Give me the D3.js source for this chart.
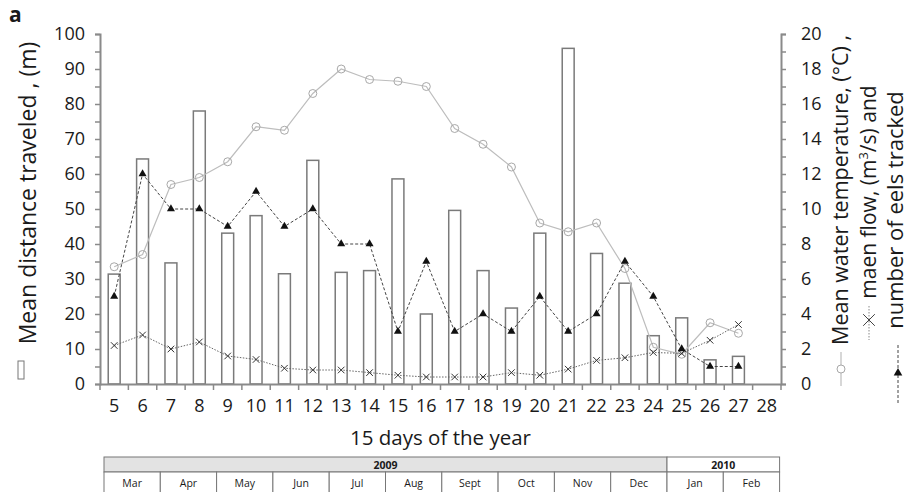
<!DOCTYPE html>
<html>
<head>
<meta charset="utf-8">
<script src="https://cdn.jsdelivr.net/npm/d3@7"></script>
<style>
  body { margin: 0; background: #fff; }
  text { font-family: "Open Sans", sans-serif; fill: #1a1a1a; }
</style>
</head>
<body>
<div id="chart"></div>
<script>
// 15-day periods of the year
const periods = [5, 6, 7, 8, 9, 10, 11, 12, 13, 14, 15, 16, 17, 18, 19, 20, 21, 22, 23, 24, 25, 26, 27, 28];
// mean distance traveled (m), left axis
const distance = [31.4, 64.3, 34.6, 78, 43.1, 48.1, 31.5, 63.9, 31.9, 32.4, 58.6, 20, 49.6, 32.4, 21.7, 43.1, 95.9, 37.3, 28.8, 13.8, 18.9, 6.9, 7.9, null];
// right axis series
const temperature = [6.7, 7.4, 11.4, 11.8, 12.7, 14.7, 14.5, 16.6, 18.0, 17.4, 17.3, 17.0, 14.6, 13.7, 12.4, 9.2, 8.7, 9.2, 6.6, 2.1, 1.7, 3.5, 2.9, null];
const flow = [2.2, 2.8, 2.0, 2.4, 1.6, 1.4, 0.9, 0.8, 0.8, 0.65, 0.5, 0.4, 0.4, 0.4, 0.65, 0.5, 0.85, 1.35, 1.5, 1.8, 1.75, 2.5, 3.4, null];
const eels = [5, 12, 10, 10, 9, 11, 9, 10, 8, 8, 3, 7, 3, 4, 3, 5, 3, 4, 7, 5, 2, 1, 1, null];
// calendar strip under the chart
const months2009 = ["Mar", "Apr", "May", "Jun", "Jul", "Aug", "Sept", "Oct", "Nov", "Dec"];
const months2010 = ["Jan", "Feb"];
const years = ["2009", "2010"];

const width = 919, height = 492;
const margin = {top: 34, bottom: 108, left: 100, right: 138};
const plotBottom = height - margin.bottom;
const plotRight = width - margin.right;

const svg = d3.select("#chart").append("svg")
  .attr("width", width)
  .attr("height", height);

const x = d3.scaleBand().domain(periods).range([margin.left, plotRight]).padding(0);
const yLeft = d3.scaleLinear().domain([0, 100]).range([plotBottom, margin.top]);
const yRight = d3.scaleLinear().domain([0, 20]).range([plotBottom, margin.top]);

const axisColor = "#8a8a8a";

// bars
const barW = x.bandwidth() * 0.42;
svg.append("g").selectAll("rect")
  .data(periods.map((p, i) => ({p: p, v: distance[i]})).filter(d => d.v != null))
  .enter()
  .append("rect")
  .attr("x", d => x(d.p) + x.bandwidth() / 2 - barW / 2)
  .attr("y", d => yLeft(d.v))
  .attr("width", barW)
  .attr("height", d => plotBottom - yLeft(d.v))
  .attr("fill", "white")
  .attr("stroke", "#7a7a7a")
  .attr("stroke-width", 1.5);

function series(values) {
  return periods.map((p, i) => ({p: p, v: values[i]})).filter(d => d.v != null);
}
const cx = d => x(d.p) + x.bandwidth() / 2;
const line = d3.line().x(cx).y(d => yRight(d.v));

// temperature
svg.append("path")
  .attr("d", line(series(temperature)))
  .attr("fill", "none")
  .attr("stroke", "#bdbdbd")
  .attr("stroke-width", 1.2);
svg.append("g").selectAll("circle")
  .data(series(temperature))
  .enter()
  .append("circle")
  .attr("cx", cx)
  .attr("cy", d => yRight(d.v))
  .attr("r", 4)
  .attr("fill", "white")
  .attr("fill-opacity", 0)
  .attr("stroke", "#a8a8a8")
  .attr("stroke-width", 1);

// flow
svg.append("path")
  .attr("d", line(series(flow)))
  .attr("fill", "none")
  .attr("stroke", "#666")
  .attr("stroke-width", 1)
  .attr("stroke-dasharray", "1.5,1.5");
svg.append("g").selectAll("path")
  .data(series(flow))
  .enter()
  .append("path")
  .attr("d", d3.symbol().type(d3.symbolTimes).size(30))
  .attr("transform", d => `translate(${cx(d)},${yRight(d.v)})`)
  .attr("fill", "none")
  .attr("stroke", "#333")
  .attr("stroke-width", 1);

// eels tracked
svg.append("path")
  .attr("d", line(series(eels)))
  .attr("fill", "none")
  .attr("stroke", "#444")
  .attr("stroke-width", 1)
  .attr("stroke-dasharray", "3,2");
svg.append("g").selectAll("path")
  .data(series(eels))
  .enter()
  .append("path")
  .attr("d", d3.symbol().type(d3.symbolTriangle).size(28))
  .attr("transform", d => `translate(${cx(d)},${yRight(d.v)})`)
  .attr("fill", "#111");

// axes
function styleAxis(g) {
  g.select(".domain").attr("stroke", axisColor).attr("stroke-width", 2);
  g.selectAll(".tick line").attr("stroke", axisColor).attr("stroke-width", 1.5);
  g.selectAll("text").attr("font-size", 18).attr("fill", "#1a1a1a")
    .attr("font-family", "Open Sans, sans-serif");
}

svg.append("g")
  .attr("transform", `translate(${margin.left},0)`)
  .call(d3.axisLeft(yLeft)
    .tickValues(d3.range(0, 101, 5))
    .tickFormat(d => d % 10 === 0 ? d : "")
    .tickSize(5).tickSizeOuter(5).tickPadding(10))
  .call(styleAxis);

svg.append("g")
  .attr("transform", `translate(${plotRight},0)`)
  .call(d3.axisRight(yRight)
    .tickValues(d3.range(0, 21, 1))
    .tickFormat(d => d % 2 === 0 ? d : "")
    .tickSize(5).tickSizeOuter(5).tickPadding(15))
  .call(styleAxis);

const xAxis = svg.append("g")
  .attr("transform", `translate(0,${plotBottom})`)
  .call(d3.axisBottom(x).tickSize(0).tickSizeOuter(0).tickPadding(15))
  .call(styleAxis);
xAxis.selectAll(".tick text").attr("dy", "0.71em");
xAxis.append("g").selectAll("line")
  .data(periods.concat([null]))
  .enter()
  .append("line")
  .attr("x1", (d, i) => margin.left + i * x.bandwidth())
  .attr("x2", (d, i) => margin.left + i * x.bandwidth())
  .attr("y1", 0)
  .attr("y2", 6)
  .attr("stroke", axisColor)
  .attr("stroke-width", 1.5);

// titles
svg.append("text")
  .attr("x", 9).attr("y", 22)
  .attr("font-size", 21).attr("font-weight", "bold")
  .text("a");

svg.append("text")
  .attr("transform", "translate(36,193) rotate(-90)")
  .attr("text-anchor", "middle")
  .attr("font-size", 23)
  .text("Mean distance traveled , (m)");
svg.append("rect")
  .attr("x", 18).attr("y", 361).attr("width", 6).attr("height", 18)
  .attr("fill", "white").attr("stroke", "#777").attr("stroke-width", 1);

svg.append("text")
  .attr("x", (margin.left + plotRight) / 2).attr("y", 445)
  .attr("text-anchor", "middle")
  .attr("font-size", 20.5)
  .text("15 days of the year");

// right-side titles with their legend marks
const rightTitles = [
  {x: 848, y: 190, text: "Mean water temperature, (°C) ,"},
  {x: 876, y: 192, text: null},
  {x: 903, y: 210, text: "number of eels tracked"}
];
svg.append("text")
  .attr("transform", `translate(${rightTitles[0].x},${rightTitles[0].y}) rotate(-90)`)
  .attr("text-anchor", "middle").attr("font-size", 21.5)
  .text(rightTitles[0].text);
const flowTitle = svg.append("text")
  .attr("transform", `translate(${rightTitles[1].x},${rightTitles[1].y}) rotate(-90)`)
  .attr("text-anchor", "middle").attr("font-size", 21);
flowTitle.append("tspan").text("maen flow, (m");
flowTitle.append("tspan").attr("font-size", 13).attr("dy", -8).text("3");
flowTitle.append("tspan").attr("dy", 8).text("/s) and");
svg.append("text")
  .attr("transform", `translate(${rightTitles[2].x},${rightTitles[2].y}) rotate(-90)`)
  .attr("text-anchor", "middle").attr("font-size", 22)
  .text(rightTitles[2].text);

// legend marks
svg.append("line").attr("x1", 841).attr("x2", 841).attr("y1", 352).attr("y2", 386)
  .attr("stroke", "#bdbdbd").attr("stroke-width", 1.2);
svg.append("circle").attr("cx", 841).attr("cy", 369).attr("r", 4)
  .attr("fill", "white").attr("stroke", "#a8a8a8");
svg.append("line").attr("x1", 869).attr("x2", 869).attr("y1", 306).attr("y2", 340)
  .attr("stroke", "#888").attr("stroke-dasharray", "1.5,1.5");
svg.append("path").attr("d", d3.symbol().type(d3.symbolTimes).size(90))
  .attr("transform", "translate(869,320)")
  .attr("fill", "none").attr("stroke", "#444").attr("stroke-width", 1);
svg.append("line").attr("x1", 898).attr("x2", 898).attr("y1", 345).attr("y2", 405)
  .attr("stroke", "#444").attr("stroke-dasharray", "3,2");
svg.append("path").attr("d", d3.symbol().type(d3.symbolTriangle).size(32))
  .attr("transform", "translate(898,373)")
  .attr("fill", "#111");

// calendar strip
const tbl = {left: 104, top: 457, mid: 472, bottom: 496, monthW: 56.3};
const allMonths = months2009.concat(months2010);
const mx = d3.scaleBand().domain(allMonths.map((m, i) => i))
  .range([tbl.left, tbl.left + tbl.monthW * allMonths.length]);
const strip = svg.append("g");
strip.append("rect")
  .attr("x", mx(0)).attr("y", tbl.top)
  .attr("width", mx.bandwidth() * months2009.length).attr("height", tbl.mid - tbl.top)
  .attr("fill", "#e3e3e3").attr("stroke", "#777").attr("stroke-width", 1);
strip.append("rect")
  .attr("x", mx(months2009.length)).attr("y", tbl.top)
  .attr("width", mx.bandwidth() * months2010.length).attr("height", tbl.mid - tbl.top)
  .attr("fill", "white").attr("stroke", "#777").attr("stroke-width", 1);
strip.selectAll(".yr")
  .data(years)
  .enter()
  .append("text")
  .attr("x", (d, i) => i === 0
    ? mx(0) + mx.bandwidth() * months2009.length / 2
    : mx(months2009.length) + mx.bandwidth() * months2010.length / 2)
  .attr("y", tbl.mid - 3.5)
  .attr("text-anchor", "middle")
  .attr("font-size", 10.5).attr("font-weight", "bold")
  .text(d => d);
strip.selectAll(".mo")
  .data(allMonths)
  .enter()
  .append("rect")
  .attr("x", (d, i) => mx(i)).attr("y", tbl.mid)
  .attr("width", mx.bandwidth()).attr("height", tbl.bottom - tbl.mid)
  .attr("fill", "white").attr("stroke", "#777").attr("stroke-width", 1);
strip.selectAll(".mt")
  .data(allMonths)
  .enter()
  .append("text")
  .attr("x", (d, i) => mx(i) + mx.bandwidth() / 2)
  .attr("y", tbl.mid + 15)
  .attr("text-anchor", "middle")
  .attr("font-size", 10.5)
  .text(d => d);
</script>
</body>
</html>
